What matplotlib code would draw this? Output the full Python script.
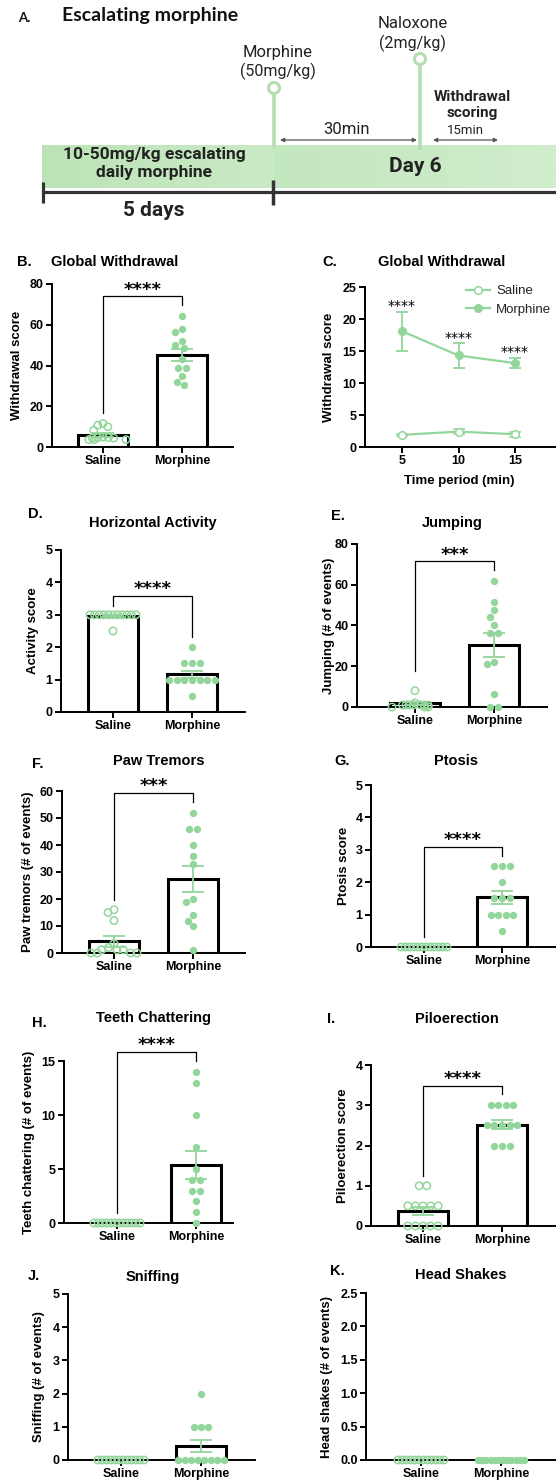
import numpy as np
import matplotlib.pyplot as plt
from matplotlib.patches import Circle
from matplotlib.lines import Line2D
from matplotlib.colors import LinearSegmentedColormap

plt.rcParams['font.family'] = ['Liberation Sans', 'DejaVu Sans']

W, H = 556, 1484
GREEN = '#93d69b'
PIN = '#b5deb0'

groups = ['Saline', 'Morphine']

# B. Global withdrawal score
global_sal = [11.5, 10.7, 9.9, 8.2, 4.9, 4.6, 4.6, 4.4, 4.4, 3.6, 3.6, 3.6]
global_mor = [64.5, 58.0, 56.3, 52.0, 50.2, 48.4, 43.0, 39.0, 39.0, 35.0, 32.0, 30.4]
global_mean = [6.1, 45.3]
global_sem = [1.0, 3.0]

# C. Global withdrawal per 5 min bin
time_min = [5, 10, 15]
time_sal_mean = [1.9, 2.4, 2.0]
time_sal_sem = [0.15, 0.35, 0.4]
time_mor_mean = [18.1, 14.3, 13.1]
time_mor_sem = [3.05, 1.9, 0.8]

# D. Horizontal activity
activity_sal = [3, 3, 3, 3, 3, 3, 3, 3, 3, 3, 3, 2.5]
activity_mor = [2, 1.5, 1.5, 1.5, 1, 1, 1, 1, 1, 1, 1, 0.5]
activity_mean = [2.96, 1.17]
activity_sem = [0.04, 0.11]

# E. Jumping
jump_sal = [8, 2, 1, 1, 1, 1, 1, 1, 1, 0, 0, 0]
jump_mor = [62, 51.6, 47.4, 44.3, 40.2, 36.2, 36.2, 22, 21, 6.4, 0, 0]
jump_mean = [1.8, 30.6]
jump_sem = [0.7, 5.9]

# F. Paw tremors
paw_sal = [16, 15, 12, 3.5, 2, 1.2, 1.2, 1.2, 0, 0, 0, 0]
paw_mor = [52, 46, 46, 40, 36, 33, 20, 19, 14, 12, 10, 1]
paw_mean = [4.3, 27.3]
paw_sem = [2.0, 4.8]

# G. Ptosis
ptosis_sal = [0, 0, 0, 0, 0, 0, 0, 0, 0, 0, 0, 0]
ptosis_mor = [2.5, 2.5, 2.5, 2, 1.5, 1.5, 1.5, 1, 1, 1, 1, 0.5]
ptosis_mean = [0, 1.54]
ptosis_sem = [0, 0.2]

# H. Teeth chattering
teeth_sal = [0, 0, 0, 0, 0, 0, 0, 0, 0, 0, 0, 0]
teeth_mor = [14, 13, 10, 7, 5, 4, 4, 3, 3, 2, 1, 0]
teeth_mean = [0, 5.4]
teeth_sem = [0, 1.3]

# I. Piloerection
pilo_sal = [1, 1, 0.5, 0.5, 0.5, 0.5, 0.5, 0, 0, 0, 0, 0]
pilo_mor = [3, 3, 3, 3, 2.5, 2.5, 2.5, 2.5, 2.5, 2, 2, 2]
pilo_mean = [0.38, 2.52]
pilo_sem = [0.1, 0.12]

# J. Sniffing
sniff_sal = [0, 0, 0, 0, 0, 0, 0, 0, 0, 0, 0, 0]
sniff_mor = [2, 1, 1, 1, 0, 0, 0, 0, 0, 0, 0, 0]
sniff_mean = [0, 0.42]
sniff_sem = [0, 0.19]

# K. Head shakes
head_sal = [0, 0, 0, 0, 0, 0, 0, 0, 0, 0, 0, 0]
head_mor = [0, 0, 0, 0, 0, 0, 0, 0, 0, 0, 0, 0]
head_mean = [0, 0]
head_sem = [0, 0]

fig = plt.figure(figsize=(W / 100, H / 100), dpi=100)


def px_axes(left, right, top, bottom):
    return fig.add_axes([left / W, 1 - bottom / H, (right - left) / W, (bottom - top) / H])


def ftext(x, y, s, **kw):
    kw.setdefault('va', 'center')
    fig.text(x / W, 1 - y / H, s, **kw)


def swarm(vals, ppu, d=7.6, maxoff=23.0):
    """Beeswarm offsets in pixels for a column of points."""
    vals = np.asarray(vals, float)
    ys = vals * ppu
    xs = np.zeros(len(vals))
    done = []
    for i in np.argsort(-vals, kind='stable'):
        bad = []
        for j in done:
            dy = abs(ys[i] - ys[j])
            if dy < d:
                w = np.sqrt(d * d - dy * dy)
                bad.append((xs[j] - w, xs[j] + w))
        cands = sorted([0.0] + [e for b in bad for e in b], key=abs)
        for c in cands:
            if all(not (lo + 1e-6 < c < hi - 1e-6) for lo, hi in bad):
                xs[i] = c
                break
        done.append(i)
    for v in np.unique(vals):
        m = vals == v
        if m.sum() > 1:
            xs[m] -= xs[m].mean()
    ext = np.abs(xs).max()
    if ext > maxoff:
        xs *= maxoff / ext
    return xs


def style(ax):
    for s in ['top', 'right']:
        ax.spines[s].set_visible(False)
    for s in ['left', 'bottom']:
        ax.spines[s].set_linewidth(1.4)
    ax.tick_params(width=1.4, length=4, labelsize=9, pad=2)


def stars_at(ax, x, y, s, size=13, weight='bold', dy=1.0):
    ax.annotate(s, (x, y), xytext=(0, dy), textcoords='offset points', ha='center',
                va='baseline', fontsize=size, fontweight=weight, family='DejaVu Sans',
                annotation_clip=False, zorder=6)


def bar_panel(lay, sal, mor, mean, sem, ylabel, title, letter, sig=None):
    left, right, top, bottom, xs, xm = lay['box']
    ax = px_axes(left, right, top, bottom)
    unit = xm - xs
    ax.set_xlim((left - xs) / unit, (right - xs) / unit)
    ymax, ystep = lay['y']
    ax.set_ylim(0, ymax)
    ppu = (bottom - top) / ymax
    ax.bar([0, 1], mean, width=0.63, color='white', edgecolor='black', linewidth=2.2, zorder=2)
    off = swarm(sal, ppu) / unit
    ax.scatter(0 + off, sal, s=28, facecolors='none', edgecolors=GREEN, linewidths=1.1,
               zorder=3, clip_on=False)
    off = swarm(mor, ppu) / unit
    ax.scatter(1 + off, mor, s=28, color=GREEN, linewidths=0, zorder=3, clip_on=False)
    for k in range(2):
        if sem[k] > 0:
            ax.errorbar(k, mean[k], yerr=sem[k], color=GREEN, capsize=8, elinewidth=1.3,
                        capthick=1.3, zorder=4)
    ticks = np.arange(0, ymax + ystep / 2, ystep)
    fmt = lay.get('fmt', '{:.0f}')
    ax.set_yticks(ticks, [fmt.format(t) for t in ticks], fontweight='bold')
    ax.set_xticks([0, 1], groups, fontweight='bold')
    style(ax)
    ax.set_ylabel(ylabel, fontsize=9.5, fontweight='bold')
    ax.yaxis.set_label_coords((lay['ylx'] + 7 - left) / (right - left), 0.5)
    if sig:
        yt, yl, yr = lay['bracket']
        ax.plot([0, 0, 1, 1], [yl, yt, yt, yr], color='black', lw=0.9, clip_on=False, zorder=5)
        stars_at(ax, 0.5, yt, sig)
    ftext(*lay['title'], title, ha='center', fontsize=10.5, fontweight='bold')
    ftext(*lay['letter'], letter, ha='left', fontsize=10.5, fontweight='bold')
    return ax


# ---------------- A. timeline schematic ----------------
ax0 = fig.add_axes([0, 1 - 240 / H, 1, 240 / H])
band_l = LinearSegmentedColormap.from_list('bl', ['#bce3b7', '#c9eac5'])
band_r = LinearSegmentedColormap.from_list('br', ['#c3e7be', '#d0edcc'])
grad = np.linspace(0, 1, 256)[None, :]
ax0.imshow(grad, cmap=band_l, extent=(42, 274, 188, 145), aspect='auto', zorder=1)
ax0.imshow(grad, cmap=band_r, extent=(274, 556, 188, 145), aspect='auto', zorder=1)
ax0.set_xlim(0, W)
ax0.set_ylim(240, 0)
ax0.axis('off')
ax0.plot([42, 556], [192, 192], color='#333333', lw=2.3, solid_capstyle='butt')
ax0.plot([43, 43], [182, 203], color='#333333', lw=2.3, solid_capstyle='butt')
ax0.plot([273, 273], [180, 205], color='#333333', lw=2.5, solid_capstyle='butt')
ax0.plot([274, 274], [94, 146], color=PIN, lw=2.6, zorder=2)
ax0.add_patch(Circle((274, 88), 5.5, fc='white', ec=PIN, lw=2.2, zorder=3))
ax0.plot([420, 420], [65, 148], color=PIN, lw=2.6, zorder=2)
ax0.add_patch(Circle((420, 59), 5.5, fc='white', ec=PIN, lw=2.2, zorder=3))
arrow = dict(arrowstyle='<|-|>', color='#555555', lw=0.9, mutation_scale=6, shrinkA=0, shrinkB=0)
ax0.annotate('', xy=(417, 140), xytext=(280, 140), arrowprops=arrow)
ax0.annotate('', xy=(498, 140), xytext=(433, 140), arrowprops=arrow)

rob = dict(family=['Roboto', 'DejaVu Sans'], color='#222222', ha='center', va='center')
ax0.text(18, 18, 'A.', fontsize=9.5, fontweight='bold', family=['Lato', 'DejaVu Sans'],
         ha='left', va='center', color='#111111')
ax0.text(62, 16, 'Escalating morphine', fontsize=14, fontweight='bold',
         family=['Lato', 'DejaVu Sans'], ha='left', va='center', color='#111111')
ax0.text(278, 53, 'Morphine', fontsize=12, **rob)
ax0.text(278, 71, '(50mg/kg)', fontsize=11.5, **rob)
ax0.text(413, 24, 'Naloxone', fontsize=12, **rob)
ax0.text(413, 43, '(2mg/kg)', fontsize=11.5, **rob)
ax0.text(347, 129, '30min', fontsize=12, **rob)
ax0.text(465, 130, '15min', fontsize=9.5, **rob)
ax0.text(472, 97, 'Withdrawal', fontsize=11, fontweight='bold', **rob)
ax0.text(472, 113, 'scoring', fontsize=11, fontweight='bold', **rob)
ax0.text(154, 155, '10-50mg/kg escalating', fontsize=12.5, fontweight='bold', **rob)
ax0.text(154, 173, 'daily morphine', fontsize=12.5, fontweight='bold', **rob)
ax0.text(415, 166, 'Day 6', fontsize=15, fontweight='bold', **rob)
ax0.text(154, 210, '5 days', fontsize=15, fontweight='bold', **rob)

# ---------------- bar panels ----------------
layout = {
    'B': dict(box=(52, 233, 284, 447, 103, 182), y=(80, 20), ylx=16,
              title=(115, 262), letter=(17, 262), bracket=(74, 16.7, 69.6)),
    'D': dict(box=(61, 245, 550, 712, 113, 192), y=(5, 1), ylx=32,
              title=(153, 523), letter=(28, 514), bracket=(3.59, 3.27, 2.3)),
    'E': dict(box=(357, 547, 544, 707, 415, 494), y=(80, 20), ylx=328,
              title=(452, 523), letter=(331, 516), bracket=(71.5, 17.5, 67)),
    'F': dict(box=(62, 245, 791, 953, 114, 193), y=(60, 10), ylx=27,
              title=(159, 761), letter=(32, 764), bracket=(59.4, 19.5, 56)),
    'G': dict(box=(371, 560, 785, 947, 424, 502), y=(5, 1), ylx=343,
              title=(456, 761), letter=(334, 761), bracket=(3.1, 0.31, 2.81)),
    'H': dict(box=(64, 233, 1061, 1223, 117, 196), y=(15, 5), ylx=28,
              title=(154, 1018), letter=(32, 1023), bracket=(15.86, 0.9, 15.0)),
    'I': dict(box=(371, 560, 1065, 1226, 423, 502), y=(4, 1), ylx=342,
              title=(457, 1019), letter=(327, 1019), bracket=(3.49, 1.25, 3.27)),
    'J': dict(box=(68, 255, 1294, 1460, 121, 201), y=(5, 1), ylx=38,
              title=(153, 1277), letter=(28, 1276)),
    'K': dict(box=(366, 560, 1293, 1460, 421, 501), y=(2.5, 0.5), ylx=326,
              title=(461, 1275), letter=(330, 1271), fmt='{:.1f}'),
}

bar_panel(layout['B'], global_sal, global_mor, global_mean, global_sem,
          'Withdrawal score', 'Global Withdrawal', 'B.', '****')
bar_panel(layout['D'], activity_sal, activity_mor, activity_mean, activity_sem,
          'Activity score', 'Horizontal Activity', 'D.', '****')
bar_panel(layout['E'], jump_sal, jump_mor, jump_mean, jump_sem,
          'Jumping (# of events)', 'Jumping', 'E.', '***')
bar_panel(layout['F'], paw_sal, paw_mor, paw_mean, paw_sem,
          'Paw tremors (# of events)', 'Paw Tremors', 'F.', '***')
bar_panel(layout['G'], ptosis_sal, ptosis_mor, ptosis_mean, ptosis_sem,
          'Ptosis score', 'Ptosis', 'G.', '****')
bar_panel(layout['H'], teeth_sal, teeth_mor, teeth_mean, teeth_sem,
          'Teeth chattering (# of events)', 'Teeth Chattering', 'H.', '****')
bar_panel(layout['I'], pilo_sal, pilo_mor, pilo_mean, pilo_sem,
          'Piloerection score', 'Piloerection', 'I.', '****')
bar_panel(layout['J'], sniff_sal, sniff_mor, sniff_mean, sniff_sem,
          'Sniffing (# of events)', 'Sniffing', 'J.')
bar_panel(layout['K'], head_sal, head_mor, head_mean, head_sem,
          'Head shakes (# of events)', 'Head Shakes', 'K.')

# ---------------- C. time course ----------------
cl, cr, ct, cb = 365, 572, 287, 447
axc = px_axes(cl, cr, ct, cb)
ppm = (515 - 402) / 10
axc.set_xlim(5 - (402 - cl) / ppm, 15 + (cr - 515) / ppm)
axc.set_ylim(0, 25)
axc.errorbar(time_min, time_mor_mean, yerr=time_mor_sem, color=GREEN, marker='o', ms=5.5,
             lw=1.6, capsize=4, elinewidth=1.3, capthick=1.3, clip_on=False, zorder=3)
axc.errorbar(time_min, time_sal_mean, yerr=time_sal_sem, color=GREEN, marker='o', ms=5.5,
             mfc='white', mew=1.1, lw=1.6, capsize=4, elinewidth=1.3, capthick=1.3,
             clip_on=False, zorder=3)
for t, m, e in zip(time_min, time_mor_mean, time_mor_sem):
    stars_at(axc, t, m + e, '****', size=10, weight='normal', dy=1.2)
axc.set_yticks(range(0, 26, 5), [str(v) for v in range(0, 26, 5)], fontweight='bold')
axc.set_xticks(time_min, [str(v) for v in time_min], fontweight='bold')
style(axc)
axc.set_ylabel('Withdrawal score', fontsize=9.5, fontweight='bold')
axc.yaxis.set_label_coords((328 + 7 - cl) / (cr - cl), 0.5)
axc.set_xlabel('Time period (min)', fontsize=9.5, fontweight='bold')
axc.xaxis.set_label_coords((459 - cl) / (cr - cl), (cb - 475) / (cb - ct))
handles = [Line2D([], [], color=GREEN, marker='o', mfc='white', mew=1.1, ms=5.5, lw=1.6),
           Line2D([], [], color=GREEN, marker='o', ms=5.5, lw=1.6)]
axc.legend(handles, groups, loc='upper left', bbox_to_anchor=(466 / W, 1 - 285 / H),
           bbox_transform=fig.transFigure, frameon=False, fontsize=9.5, handlelength=1.8,
           handletextpad=0.5, labelspacing=0.5, borderpad=0, borderaxespad=0,
           labelcolor='#222222')
ftext(442, 262, 'Global Withdrawal', ha='center', fontsize=10.5, fontweight='bold')
ftext(322, 262, 'C.', ha='left', fontsize=10.5, fontweight='bold')

fig.savefig('out.png', dpi=100)
